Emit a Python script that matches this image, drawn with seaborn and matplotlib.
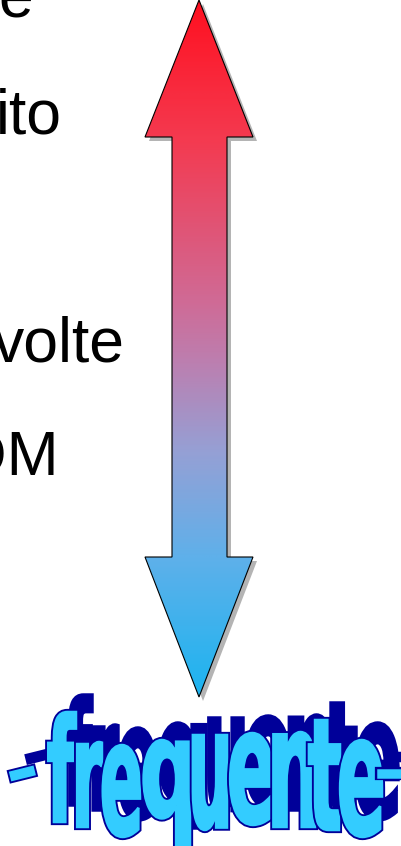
import matplotlib
matplotlib.use("Agg")
import numpy as np
import matplotlib.pyplot as plt
import seaborn as sns
from matplotlib.colors import LinearSegmentedColormap
from matplotlib.patches import Polygon, PathPatch
from matplotlib.textpath import TextPath
from matplotlib.font_manager import FontProperties
from matplotlib.transforms import Affine2D

sns.set_theme(style="white")
plt.rcParams["font.family"] = ["Liberation Sans", "DejaVu Sans"]

# word fragments left of the arrow (cut by the left edge of the slide)
side_words = ["e", "ito", "volte", "OM"]

# colour stops of the arrow gradient, top -> bottom
grad_stops = [0.0, 0.2, 0.43, 0.52, 0.65, 0.8, 1.0]
grad_colors = ["#ff1020", "#f43a50", "#d06a95", "#bc7fb0", "#95a0d5", "#5fb0ea", "#1cb4f0"]

# word-art banner under the arrow
banner = "-frequente-"

# ---- layout (pixels, y down) ----
W, H = 401, 846
word_right = [33, 62, 125, 59]
word_base = [18, 133, 362, 475]

arrow_pts = [(199, 0), (253, 137), (227, 137), (227, 557), (253, 557),
             (199, 697), (145, 557), (172, 557), (172, 137), (145, 137)]

let_x0 = [11, 47, 72, 100, 140, 188, 227, 267, 308, 337, 374]
let_x1 = [38, 76, 102, 140, 190, 227, 273, 315, 340, 382, 400]
let_top = [773, 712, 742, 745, 740, 735, 733, 732, 720, 740, 770]
let_bot = [792, 822, 827, 837, 845, 830, 825, 827, 830, 837, 788]
let_rot = [-14, 0, 0, 0, 0, 0, 0, 0, 0, 0, 0]
shadow_dx, shadow_dy = 16, -17
fp = FontProperties(family="DejaVu Sans", weight="bold")


def letter_path(i, dx=0, dy=0):
    tp = TextPath((0, 0), banner[i], size=100, prop=fp)
    gx0, gy0 = tp.vertices.min(axis=0)
    gx1, gy1 = tp.vertices.max(axis=0)
    sx = (let_x1[i] - let_x0[i]) / (gx1 - gx0)
    sy = (let_bot[i] - let_top[i]) / (gy1 - gy0)
    tr = (Affine2D().translate(-gx0, -gy0).scale(sx, -sy)
          .rotate_deg_around(0, 0, let_rot[i])
          .translate(let_x0[i] + dx, let_bot[i] + dy))
    return tr.transform_path(tp)


fig = plt.figure(figsize=(W / 100, H / 100), dpi=100)
ax = fig.add_axes([0, 0, 1, 1])
ax.set_xlim(0, W)
ax.set_ylim(H, 0)
ax.axis("off")

# side text
for word, xr, yb in zip(side_words, word_right, word_base):
    ax.text(xr, yb, word, ha="right", va="baseline", fontsize=45, color="black",
            family=["Liberation Sans", "DejaVu Sans"])

# arrow shadow
shadow = Polygon([(x + 4, y + 4) for x, y in arrow_pts], closed=True,
                 facecolor="#b4b4b4", edgecolor="none", zorder=1)
ax.add_patch(shadow)

# arrow with vertical gradient
cmap = LinearSegmentedColormap.from_list("arrow", list(zip(grad_stops, grad_colors)))
grad = np.linspace(0, 1, 400).reshape(-1, 1)
arrow = Polygon(arrow_pts, closed=True, facecolor="none", edgecolor="black",
                linewidth=0.8, zorder=3)
ax.add_patch(arrow)
img = ax.imshow(grad, cmap=cmap, aspect="auto", origin="upper",
                extent=(145, 253, 697, 0), zorder=2, interpolation="bilinear")
img.set_clip_path(arrow)

# word-art: dark blue extruded shadow, then light blue letters with outline
for i in range(len(banner)):
    ax.add_patch(PathPatch(letter_path(i, shadow_dx, shadow_dy), facecolor="#000099",
                           edgecolor="#000099", linewidth=2.5, zorder=4))
for i in range(len(banner)):
    p = letter_path(i)
    ax.add_patch(PathPatch(p, facecolor="#33ccff", edgecolor="#000099",
                           linewidth=4.5, zorder=5 + 2 * i))
    ax.add_patch(PathPatch(p, facecolor="#33ccff", edgecolor="#33ccff",
                           linewidth=1.8, zorder=6 + 2 * i))

fig.savefig("out.png", dpi=100)
